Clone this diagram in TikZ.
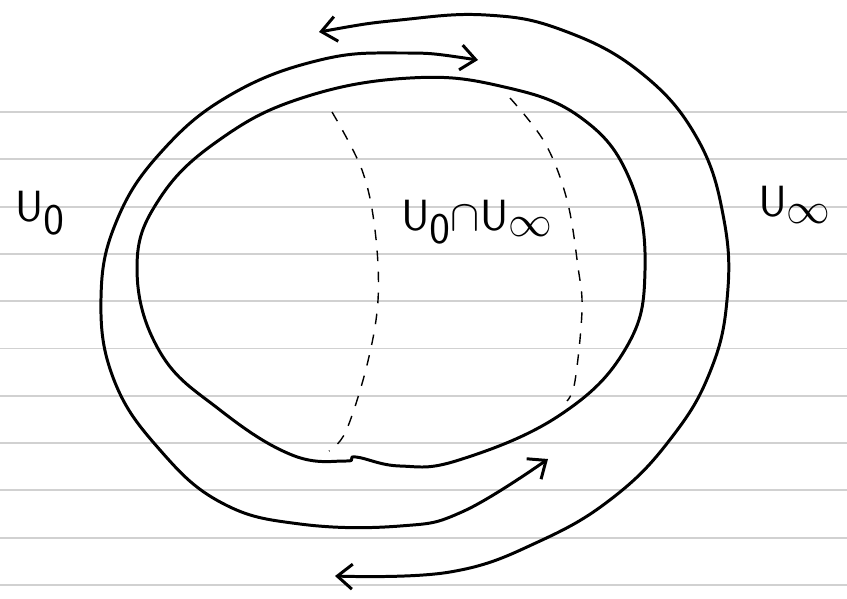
\documentclass[tikz,border=0pt]{standalone}
\usepackage{amsmath}
\usepackage{tikz}
\usetikzlibrary{arrows.meta}
\tikzset{
  rul/.style={draw=black!18,line width=1.1pt},
  pen/.style={draw=black,line width=1.7pt,line cap=round,line join=round},
  arw/.style={pen,{Straight Barb[length=3mm,width=5mm]}-{Straight Barb[length=3mm,width=5mm]}},
  dsh/.style={draw=black,line width=.8pt,dash pattern=on 6pt off 6pt},
  lbl/.style={font=\fontsize{38}{44}\selectfont,inner sep=0pt},
}

\begin{document}
\begin{tikzpicture}[x=0.02cm,y=-0.02cm]
\useasboundingbox (0,0) rectangle (847,598);
% ---- ruled paper
\foreach \k in {0,...,10}
  \draw[rul] (0,112+47.3*\k) -- (847,112+47.3*\k);
% ---- the sphere
\draw[pen] plot[smooth cycle,tension=.7] coordinates {
  (410,78) (500,86) (580,117) (630,180) (645,270) (626,348)
  (560,415) (459,460) (400,466) (356,457) (346,461) (292,455)
  (220,410) (160,352) (137,268) (160,198) (222,138) (305,97)};
% ---- dashed strip
\draw[dsh] plot[smooth,tension=.6] coordinates {
  (332,112) (362,170) (375,230) (378,300)
  (367,365) (346,431) (329,451)};
\draw[dsh] plot[smooth,tension=.6] coordinates {
  (510,98) (545,143) (567,200)
  (578,267) (582,310) (575,381) (567,401)};
% ---- the two charts
\draw[arw] plot[smooth,tension=.7] coordinates {
  (478,60) (400,53) (320,60) (232,94) (163,150) (117,220)
  (101,298) (114,380) (160,450) (222,503) (300,524) (400,526)
  (464,511) (548,459)};
\draw[arw] plot[smooth,tension=.7] coordinates {
  (319,32) (400,20) (486,15) (562,30) (640,72) (697,138)
  (724,220) (727,300) (710,372) (672,437) (615,496)
  (540,541) (450,572) (335,576)};
% ---- labels
\node[lbl] (u0) at (40,213) {$\mathsf{U}_{\mathsf{0}}$};
\node[lbl] (u0i) at (477,222) {$\mathsf{U}_{\mathsf{0}}{\cap}\mathsf{U}_{\infty}$};
\node[lbl] (ui) at (795,205) {$\mathsf{U}_{\infty}$};
\end{tikzpicture}
\end{document}
